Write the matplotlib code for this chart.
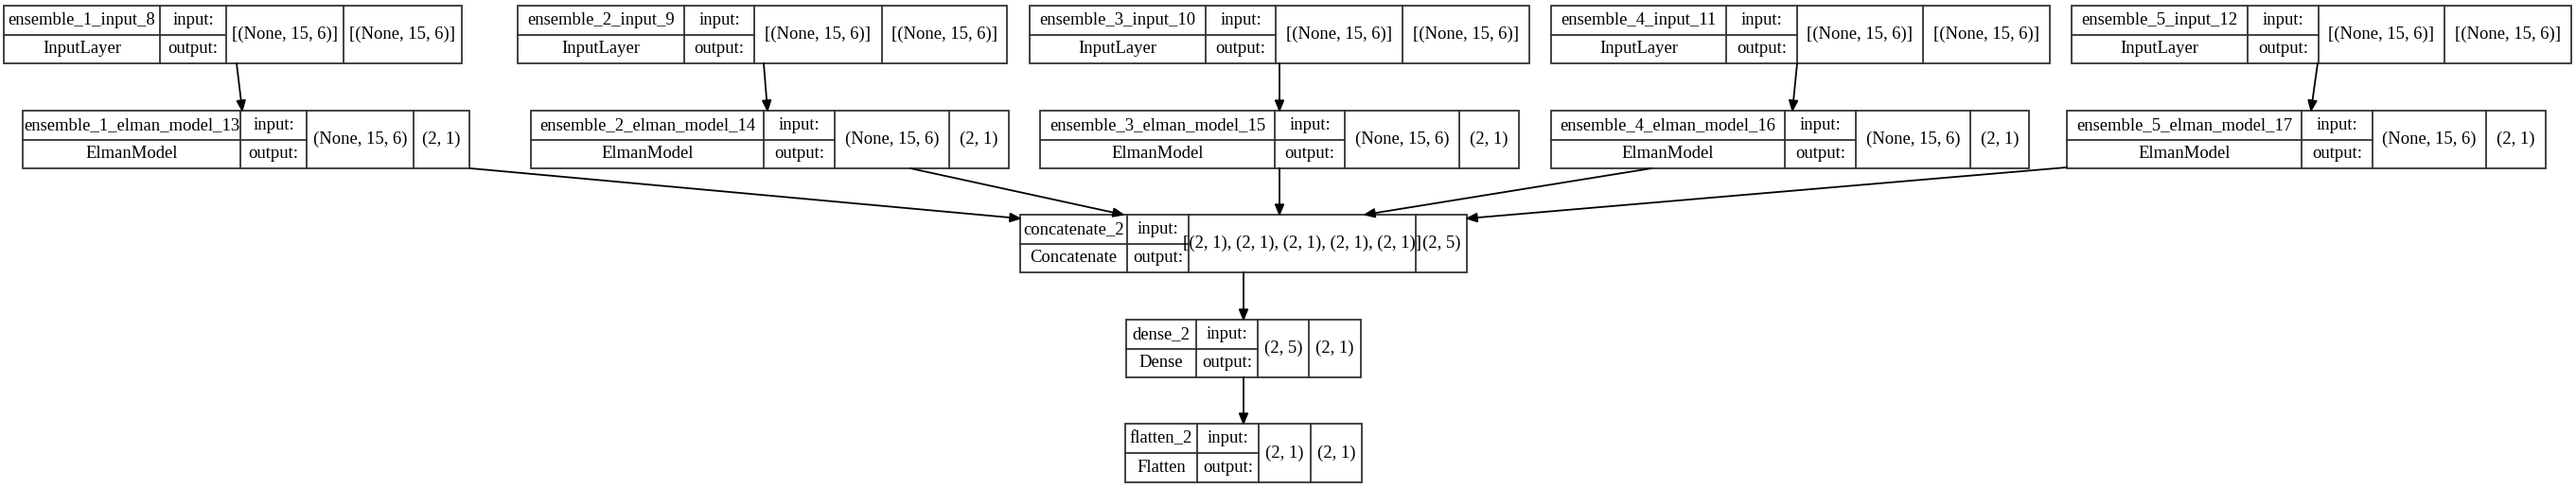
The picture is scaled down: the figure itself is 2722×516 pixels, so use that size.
import matplotlib.pyplot as plt
from matplotlib.patches import Rectangle, Polygon

# layer info
names = ["ensemble_1_input_8", "ensemble_2_input_9", "ensemble_3_input_10",
         "ensemble_4_input_11", "ensemble_5_input_12",
         "ensemble_1_elman_model_13", "ensemble_2_elman_model_14", "ensemble_3_elman_model_15",
         "ensemble_4_elman_model_16", "ensemble_5_elman_model_17",
         "concatenate_2", "dense_2", "flatten_2"]
types = ["InputLayer"] * 5 + ["ElmanModel"] * 5 + ["Concatenate", "Dense", "Flatten"]
in_shapes = ["[(None, 15, 6)]"] * 5 + ["(None, 15, 6)"] * 5 + \
    ["[(2, 1), (2, 1), (2, 1), (2, 1), (2, 1)]", "(2, 5)", "(2, 1)"]
out_shapes = ["[(None, 15, 6)]"] * 5 + ["(2, 1)"] * 5 + ["(2, 5)", "(2, 1)", "(2, 1)"]

# box layout in pixels: left, name|label, label|in, in|out, right ; top, bottom
xcols = [
    (4, 169, 239, 363, 488), (547, 723, 797, 932, 1064), (1088, 1274, 1348, 1482, 1616),
    (1639, 1824, 1899, 2032, 2166), (2189, 2375, 2450, 2583, 2717),
    (24, 254, 324, 437, 496), (561, 807, 882, 1003, 1066), (1099, 1347, 1421, 1542, 1605),
    (1639, 1886, 1961, 2082, 2144), (2184, 2432, 2507, 2627, 2690),
    (1078, 1191, 1256, 1496, 1550), (1190, 1264, 1329, 1383, 1438), (1189, 1265, 1330, 1385, 1439),
]
yrows = [(6, 67)] * 5 + [(117, 178)] * 5 + [(227, 288), (338, 399), (448, 510)]

# edges (start point, end point)
edges = [
    ((250, 67), (256, 117)), ((807, 67), (811, 117)), ((1352, 67), (1352, 117)),
    ((1899, 67), (1894, 117)), ((2449, 67), (2442, 117)),
    ((497, 178), (1078, 231)), ((962, 178), (1187, 227)), ((1352, 178), (1352, 227)),
    ((1745, 178), (1442, 227)), ((2184, 177), (1550, 231)),
    ((1314, 288), (1314, 338)), ((1314, 399), (1314, 448)),
]

W, H = 2722, 516
fig = plt.figure(figsize=(W / 100, H / 100), dpi=100)
ax = fig.add_axes([0, 0, 1, 1])
ax.set_xlim(0, W)
ax.set_ylim(H, 0)
ax.axis("off")

lc = "#333333"
fs = 13.4
font = dict(family="Liberation Serif", fontsize=fs, color="black", ha="center", va="center")

for i in range(len(names)):
    x0, x1, x2, x3, x4 = xcols[i]
    t, b = yrows[i]
    m = (t + b) / 2
    ax.add_patch(Rectangle((x0, t), x4 - x0, b - t, fill=False, ec=lc, lw=1.3))
    for x in (x1, x2, x3):
        ax.plot([x, x], [t, b], color=lc, lw=1.3)
    ax.plot([x0, x2], [m, m], color=lc, lw=1.3)
    ax.text((x0 + x1) / 2, (t + m) / 2, names[i], **font)
    ax.text((x0 + x1) / 2, (m + b) / 2, types[i], **font)
    ax.text((x1 + x2) / 2, (t + m) / 2, "input:", **font)
    ax.text((x1 + x2) / 2, (m + b) / 2, "output:", **font)
    ax.text((x2 + x3) / 2, m, in_shapes[i], **font)
    ax.text((x3 + x4) / 2, m, out_shapes[i], **font)

for (sx, sy), (ex, ey) in edges:
    dx, dy = ex - sx, ey - sy
    L = (dx ** 2 + dy ** 2) ** 0.5
    ux, uy = dx / L, dy / L
    hl, hw = 11, 4.5
    bx, by = ex - ux * hl, ey - uy * hl
    ax.plot([sx, bx], [sy, by], color="black", lw=1.3)
    ax.add_patch(Polygon([(ex, ey), (bx - uy * hw, by + ux * hw), (bx + uy * hw, by - ux * hw)],
                         closed=True, fc="black", ec="black", lw=1))

fig.savefig("out.png", dpi=100, facecolor="white")
